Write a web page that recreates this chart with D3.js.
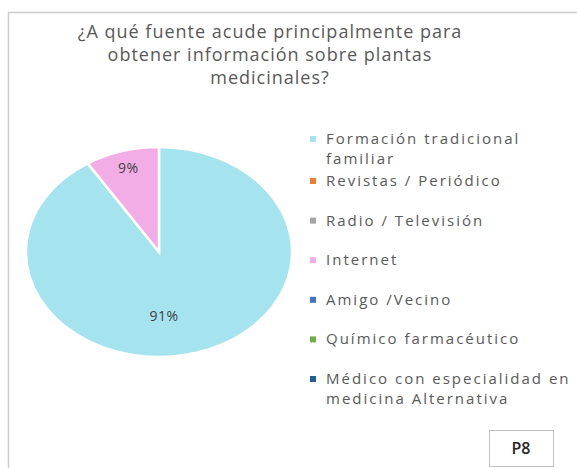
<!DOCTYPE html>
<html>
<head>
<meta charset="utf-8">
<script src="https://cdn.jsdelivr.net/npm/d3@7"></script>
<style>
  body { margin: 0; background: #fff; }
  svg text { font-family: "Open Sans", "DejaVu Sans", sans-serif; }
</style>
</head>
<body>
<div class="canvas"></div>
<script>
/**
 * Data
 */
const categories = [
    "Formación tradicional familiar",
    "Revistas / Periódico",
    "Radio / Televisión",
    "Internet",
    "Amigo /Vecino",
    "Químico farmacéutico",
    "Médico con especialidad en medicina Alternativa"
]
const values = [91, 0, 0, 9, 0, 0, 0]
const colors = ["#a5e3ef", "#ed7d31", "#a5a5a5", "#f2ade7", "#4472c4", "#70ad47", "#255e91"]
const titleLines = ["¿A qué fuente acude principalmente para", "obtener información sobre plantas", "medicinales?"]
// legend text broken as in the picture
const legendLines = [
    ["Formación tradicional", "familiar"],
    ["Revistas / Periódico"],
    ["Radio / Televisión"],
    ["Internet"],
    ["Amigo /Vecino"],
    ["Químico farmacéutico"],
    ["Médico con especialidad en", "medicina Alternativa"]
]

/**
 * Dimension setup
 */
const dims = { width: 577, height: 468 }
const pieDims = { cx: 159, cy: 252, rx: 133, ry: 105 }

const svg = d3.select(".canvas")
    .append("svg")
    .attr("width", dims.width)
    .attr("height", dims.height)

// chart frame
svg.append("rect")
    .attr("x", 8.5).attr("y", 12.5)
    .attr("width", 620).attr("height", 520)
    .attr("fill", "#fff")
    .attr("stroke", "#cccccc")
    .attr("stroke-width", 1.5)

// title
svg.append("g").selectAll("text")
    .data(titleLines)
    .enter().append("text")
    .attr("x", 270)
    .attr("y", (d, i) => 38 + i * 23)
    .attr("text-anchor", "middle")
    .attr("font-size", 18)
    .attr("letter-spacing", 1)
    .attr("fill", "#595959")
    .text(d => d)

/**
 * Pie (drawn as circle, squashed into an ellipse)
 */
const pie = d3.pie().sort(null).value(d => d.value)
const arcData = pie(categories.map((c, i) => ({ name: c, value: values[i], color: colors[i] })))

const arcPath = d3.arc().innerRadius(0).outerRadius(pieDims.rx)

const graph = svg.append("g")
    .attr("transform", `translate(${pieDims.cx},${pieDims.cy}) scale(1,${pieDims.ry / pieDims.rx})`)

graph.selectAll("path")
    .data(arcData.filter(d => d.value > 0))
    .enter().append("path")
    .attr("d", arcPath)
    .attr("fill", d => d.data.color)
    .attr("stroke", "#fff")
    .attr("stroke-width", 2.5)
    .attr("vector-effect", "non-scaling-stroke")

// percentage labels
const total = d3.sum(values)
const labels = svg.append("g")
arcData.filter(d => d.value > 0).forEach(d => {
    const share = d.value / total
    // small slices: label near edge, big slice: label toward the middle-bottom
    const r = share < 0.5 ? 0.83 : 0.61
    const a = share < 0.5 ? (d.startAngle + d.endAngle) / 2 : Math.PI * 0.98
    const x = pieDims.cx + Math.sin(a) * r * pieDims.rx
    const y = pieDims.cy - Math.cos(a) * r * pieDims.ry
    labels.append("text")
        .attr("x", x).attr("y", y + 5)
        .attr("text-anchor", "middle")
        .attr("font-size", 14)
        .attr("letter-spacing", 0.5)
        .attr("fill", "#404040")
        .text(d3.format(".0%")(share))
})

/**
 * Legend
 */
// rows after the first one are evenly spaced, the wrapped first row sits above
const legendY = d3.scaleLinear().domain([1, 6]).range([181, 379])
const rowY = i => i === 0 ? legendY(1) - 42 : legendY(i)
const legend = svg.append("g")

categories.forEach((c, i) => {
    const y = rowY(i)
    legend.append("rect")
        .attr("x", 310).attr("y", y - 3)
        .attr("width", 6).attr("height", 6)
        .attr("fill", colors[i])
    legend.append("text")
        .attr("x", 326)
        .attr("font-size", 15)
        .attr("letter-spacing", 2)
        .attr("fill", "#595959")
        .selectAll("tspan")
        .data(legendLines[i])
        .enter().append("tspan")
        .attr("x", 326)
        .attr("y", (d, j) => y + 5 + j * 20)
        .text(d => d)
})

// P8 box
svg.append("rect")
    .attr("x", 489.5).attr("y", 430.5)
    .attr("width", 64).attr("height", 36)
    .attr("fill", "#fff")
    .attr("stroke", "#bfbfbf")
    .attr("stroke-width", 1)
svg.append("text")
    .attr("x", 521).attr("y", 454)
    .attr("text-anchor", "middle")
    .attr("font-size", 16)
    .attr("font-weight", 600)
    .attr("fill", "#262626")
    .text("P8")
</script>
</body>
</html>
